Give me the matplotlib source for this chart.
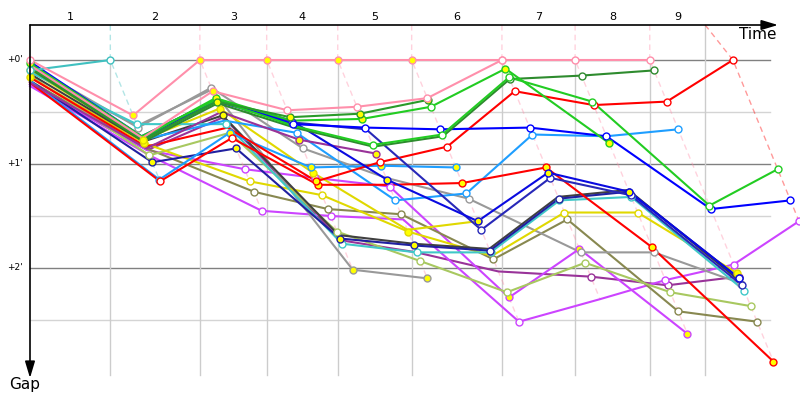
import numpy as np
import matplotlib
matplotlib.use("Agg")
import matplotlib.pyplot as plt

# race time (s) of the leader at the end of each lap; a car is drawn at leader time + its gap
LAP_TIMES = [113, 239, 333, 433, 537, 664, 767, 872, 989]
LAP_GRID = [113, 239, 333, 433, 537, 664, 767, 872, 950]
LAP_LABELS = ["1", "2", "3", "4", "5", "6", "7", "8", "9"]
GAP_TICKS = [0, 60, 120]
GAP_MINOR = [30, 90, 150]
GAP_TICK_LABELS = ["+0'", "+1'", "+2'"]

# gap to leader (s) for laps 0..n, and the marker at each lap: w open, y yellow, n none
PINK_A = [0, 32, 0, 0, 0, 0, 0, 0, 0]
PINK_B = [3, 45, 18, 29, 27, 22, 0]
CYAN_A = [6, 0]
CYAN_B = [7, 37, 37, 106, 111, 111, 81, 79, 133]
DARK_GRAY = [8, 47, 32, 101, 106, 109, 79, 75, 128]
NAVY_A = [12, 59, 51, 103, 107, 110, 80, 76, 126]
BLUE_A = [1, 44, 23, 37, 39, 40, 39, 44, 86, 81]
BLUE_B = [2, 45, 23, 35, 69, 93, 65, 76, 126]
NAVY_B = [3, 46, 24, 36, 40, 98, 68, 78, 130]
LIGHT_GREEN = [9, 55, 42, 99, 116, 134, 117, 134, 142]
GRAY_A = [3, 39, 16, 51, 68, 80, 111, 111, 129]
GRAY_B = [6, 38, 17, 121, 126]
SKY_A = [3, 46, 35, 42, 81, 77, 43, 44, 40]
SKY_B = [12, 69, 42, 62, 61, 62]
RED_A = [10, 50, 39, 70, 59, 50, 18, 26, 24, 0]
RED_B = [13, 70, 45, 72, 72, 71, 62, 108, 174]
YELLOW_A = [6, 46, 28, 65, 98, 93]
YELLOW_B = [10, 48, 70, 78, 99, 113, 88, 88, 123]
OLIVE = [12, 51, 76, 86, 89, 115, 92, 145, 151]
VIOLET_A = [14, 52, 63, 68, 73, 137, 109, 158]
VIOLET_B = [15, 55, 87, 90, 92, 151, 138, 127, 118, 93]
PURPLE_A = [13, 51, 30, 46, 54]
PURPLE_B = [14, 52, 33, 104, 111, 122, 125, 130, 125]
GREEN_A = [4, 46, 24, 33, 31, 23]
GREEN_B = [2, 45, 22, 35, 34, 27, 5, 48]
GREEN_C = [2, 44, 23, 38, 49, 43, 10, 24, 84, 63]
GREEN_D = [5, 47, 25, 39, 50, 44, 11, 9, 6]

CARS = [
    ("#993399", PURPLE_B, "nnnnnnwww"),
    ("#cc44ff", VIOLET_B, "nnwwnwnwww"),
    ("#cc44ff", VIOLET_A, "nnwwwyyy"),
    ("#888850", OLIVE, "nnwwwwwww"),
    ("#a8c860", LIGHT_GREEN, "nwywwwwww"),
    ("#999999", GRAY_B, "nnnyy"),
    ("#999999", GRAY_A, "nwwwnwwww"),
    ("#e0d800", YELLOW_B, "yywwynwwy"),
    ("#e0d800", YELLOW_A, "yyyyny"),
    ("#404040", DARK_GRAY, "nnynnnnnn"),
    ("#40c8c8", CYAN_B, "nwwwwwwww"),
    ("#2020a0", NAVY_A, "nyyyywwyw"),
    ("#1e9eff", SKY_B, "nyyyyy"),
    ("#1e9eff", SKY_A, "nnnwwwwnw"),
    ("#ff0000", RED_B, "nwwynyyyy"),
    ("#ff0000", RED_A, "nnnywwwwww"),
    ("#993399", PURPLE_A, "nnnyy"),
    ("#2828b8", NAVY_B, "nnnwnwwww"),
    ("#0a0ae0", BLUE_B, "nnnnyyyyw"),
    ("#0000ff", BLUE_A, "nnnwwwwwww"),
    ("#2e8b2e", GREEN_D, "nnnnnnwww"),
    ("#22cc22", GREEN_C, "nnnnwwwwww"),
    ("#22cc22", GREEN_B, "ynynywyy"),
    ("#2a9a2a", GREEN_A, "nnyyyy"),
    ("#40c0c0", CYAN_A, "ww"),
    ("#ff8fab", PINK_B, "nnywwww"),
    ("#ff8fab", PINK_A, "wyyyyywww"),
]

# pixel geometry of the 800x400 canvas (origin of the axes at pixel 30, 60)
SX = 1.407  # seconds of race time per pixel
SY = 0.577  # seconds of gap per pixel
AX_TOP = -35 * SY
GRID_BOT = 315 * SY
GRID_RIGHT = 740 * SX


def car_xy(gaps):
    x = [0.0] + [LAP_TIMES[k - 1] + gaps[k] for k in range(1, len(gaps))]
    return np.array(x), np.array(gaps, dtype=float)


fig = plt.figure(figsize=(8, 4), dpi=100)
ax = fig.add_axes([0, 0, 1, 1])
ax.set_xlim(-30 * SX, 770 * SX)
ax.set_ylim(340 * SY, -60 * SY)
ax.axis("off")

# horizontal grid
for g in GAP_MINOR:
    ax.plot([0, GRID_RIGHT], [g, g], color="#d4d4d4", lw=1, zorder=1)
for g in GAP_TICKS:
    ax.plot([0, GRID_RIGHT], [g, g], color="#808080", lw=1, zorder=1)

# lap guides: vertical grid + dashed line through every car's point of that lap
for k in range(1, len(LAP_TIMES) + 1):
    pts = []
    for color, gaps, _ in CARS:
        if len(gaps) > k:
            pts.append((gaps[k], LAP_TIMES[k - 1] + gaps[k], color))
    pts.sort(key=lambda p: p[0])
    lead_color = pts[0][2]
    grid_x = LAP_GRID[k - 1]
    y0 = 0 if grid_x == LAP_TIMES[k - 1] else AX_TOP
    ax.plot([grid_x, grid_x], [y0, GRID_BOT], color="#cccccc", lw=1, zorder=1)
    gx = [grid_x] + [p[1] for p in pts]
    gy = [AX_TOP] + [p[0] for p in pts]
    ax.plot(gx, gy, color=lead_color, alpha=0.4, lw=1, ls=(0, (4, 3)), zorder=2)

for color, gaps, marks in CARS:
    x, y = car_xy(gaps)
    ax.plot(x, y, color=color, lw=1.5, zorder=3, solid_joinstyle="round")
    m = np.array(list(marks))
    for code, face in (("w", "white"), ("y", "#ffff00")):
        sel = m == code
        ax.plot(x[sel], y[sel], ls="none", marker="o", ms=5, mfc=face,
                mec=color, mew=1, zorder=4)

# axes with arrows
arrow = dict(arrowstyle="-|>,head_length=1.0,head_width=0.3", color="black",
             lw=1.2, shrinkA=0, shrinkB=0)
ax.annotate("", xy=(748 * SX, AX_TOP), xytext=(0, AX_TOP), arrowprops=arrow, zorder=5)
ax.annotate("", xy=(0, 318 * SY), xytext=(0, AX_TOP), arrowprops=arrow, zorder=5)

edges = [0] + LAP_GRID
for i, lab in enumerate(LAP_LABELS):
    ax.text((edges[i] + edges[i + 1]) / 2, -43 * SY, lab, ha="center", va="center",
            fontsize=8)
for g, lab in zip(GAP_TICKS, GAP_TICK_LABELS):
    ax.text(-7 * SX, g, lab, ha="right", va="center", fontsize=6.5)

ax.text(747 * SX, -25 * SY, "Time", ha="right", va="center", fontsize=11)
ax.text(-5 * SX, 325 * SY, "Gap", ha="center", va="center", fontsize=11)

fig.savefig("out.png", dpi=100)
